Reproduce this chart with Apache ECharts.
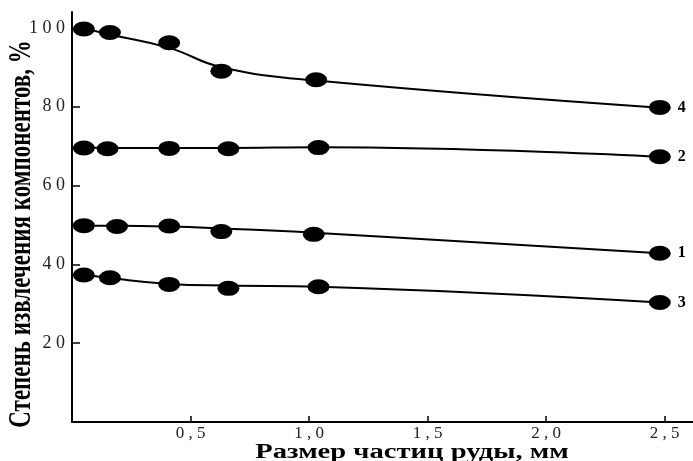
<!DOCTYPE html>
<html>
<head>
<meta charset="utf-8">
<script src="https://cdn.jsdelivr.net/npm/echarts@6/dist/echarts.min.js"></script>
<style>
  html, body { margin: 0; padding: 0; background: #fff; }
  #chart { width: 693px; height: 461px; }
</style>
</head>
<body>
<div id="chart"></div>
<script>
// Particle size of ore, mm (measured points for each curve)
const xCurve4 = [0.05, 0.16, 0.41, 0.63, 1.03, 2.48];
const yCurve4 = [99.7, 98.8, 96.2, 89.0, 86.8, 79.8];
const xCurve2 = [0.05, 0.15, 0.41, 0.66, 1.04, 2.48];
const yCurve2 = [69.5, 69.3, 69.4, 69.3, 69.6, 67.3];
const xCurve1 = [0.05, 0.19, 0.41, 0.63, 1.02, 2.48];
const yCurve1 = [49.8, 49.6, 49.7, 48.3, 47.6, 42.8];
const xCurve3 = [0.05, 0.16, 0.41, 0.66, 1.04, 2.48];
const yCurve3 = [37.3, 36.6, 34.9, 33.9, 34.3, 30.3];

// Smoothed trend through each set of points
const yTrend4 = [99.9, 98.3, 94.9, 90.0, 86.6, 79.7];
const yTrend2 = [69.6, 69.5, 69.5, 69.5, 69.7, 67.3];
const yTrend1 = [49.8, 49.8, 49.6, 49.1, 48.0, 42.8];
const yTrend3 = [37.4, 36.5, 35.0, 34.6, 34.3, 30.3];

const curveNames = ['4', '2', '1', '3'];
const xTicks = [0.5, 1.0, 1.5, 2.0, 2.5];
const yTicks = [20, 40, 60, 80, 100];

const xTitle = 'Размер частиц руды, мм';
const yTitle = 'Степень извлечения компонентов, %';

const curves = [
  { name: curveNames[0], x: xCurve4, y: yCurve4, t: yTrend4 },
  { name: curveNames[1], x: xCurve2, y: yCurve2, t: yTrend2 },
  { name: curveNames[2], x: xCurve1, y: yCurve1, t: yTrend1 },
  { name: curveNames[3], x: xCurve3, y: yCurve3, t: yTrend3 }
];

const serif = '"Liberation Serif", "DejaVu Serif", serif';
const spaced = s => s.split('').join(' ');

const series = [];
curves.forEach(c => {
  series.push({
    type: 'line',
    smooth: 0.45,
    symbol: 'none',
    silent: true,
    lineStyle: { color: '#000', width: 2 },
    data: c.x.map((v, i) => [v, c.t[i]]),
    z: 2
  });
  series.push({
    type: 'scatter',
    symbol: 'circle',
    symbolSize: [22, 15],
    itemStyle: { color: '#000', opacity: 1 },
    data: c.x.map((v, i) => {
      const item = { value: [v, c.y[i]] };
      if (i === c.x.length - 1) {
        item.label = {
          show: true,
          position: 'right',
          distance: 7,
          formatter: c.name,
          fontFamily: serif,
          fontWeight: 'bold',
          fontSize: 16,
          color: '#000'
        };
      }
      return item;
    }),
    z: 3
  });
});

const chart = echarts.init(document.getElementById('chart'), null, { renderer: 'canvas' });
chart.setOption({
  animation: false,
  backgroundColor: '#fff',
  grid: { left: 72, right: 0, top: 12, bottom: 39, containLabel: false, outerBoundsMode: 'none' },
  xAxis: {
    type: 'value',
    min: 0,
    max: 2.62,
    axisLine: { show: true, lineStyle: { color: '#000', width: 2 } },
    axisTick: { show: true, inside: true, length: 6, customValues: xTicks, lineStyle: { color: '#000', width: 1.5 } },
    axisLabel: {
      customValues: xTicks,
      margin: 3,
      fontFamily: serif,
      fontSize: 17,
      color: '#222',
      formatter: v => spaced(v.toFixed(1).replace('.', ','))
    },
    splitLine: { show: false }
  },
  yAxis: {
    type: 'value',
    min: 0,
    max: 104,
    axisLine: { show: true, lineStyle: { color: '#000', width: 2 } },
    axisTick: { show: true, inside: true, length: 8, customValues: yTicks, lineStyle: { color: '#000', width: 1.5 } },
    axisLabel: {
      customValues: yTicks,
      margin: 7,
      fontFamily: serif,
      fontSize: 18,
      color: '#222',
      formatter: v => spaced(String(v))
    },
    splitLine: { show: false }
  },
  graphic: [{
    // condensed, tall vertical axis title
    type: 'text',
    x: 22,
    y: 234,
    rotation: Math.PI / 2,
    scaleX: 1.0,
    scaleY: 1.35,
    style: {
      text: yTitle,
      font: 'bold 23px ' + serif,
      fill: '#000',
      align: 'center',
      verticalAlign: 'middle'
    }
  }, {
    // wide horizontal axis title
    type: 'text',
    x: 412,
    y: 453,
    scaleX: 1.43,
    scaleY: 1.0,
    style: {
      text: xTitle,
      font: 'bold 20px ' + serif,
      fill: '#000',
      align: 'center',
      verticalAlign: 'middle'
    }
  }],
  series: series
});
</script>
</body>
</html>
